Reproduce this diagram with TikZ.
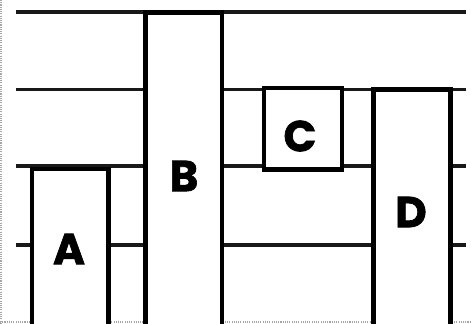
\documentclass[tikz,border=0pt]{standalone}
\usepackage{fontspec}
\setsansfont{Poppins}[BoldFeatures={FakeBold=1.5}]
\usetikzlibrary{positioning}
\definecolor{ScanBlack}{RGB}{25,25,25}
\definecolor{EdgeGray}{RGB}{165,165,165}
\tikzset{
  shelf/.style={line width=2.9pt,draw=ScanBlack},
  bar/.style={line width=3.6pt,draw=black,fill=white},
  letter/.style={font=\sffamily\bfseries\fontsize{37}{37}\selectfont,inner sep=0pt},
  frame/.style={line width=0.9pt,draw=EdgeGray,densely dotted}
}
\begin{document}
\begin{tikzpicture}[x=0.03cm,y=-0.03cm]
  \useasboundingbox (0,0) rectangle (471,323);
  \clip (0,0) rectangle (471,323);
  % scan edge
  \draw[frame] (1,0) -- (1,323);
  \draw[frame] (0,322) -- (471,322);
  % shelves
  \foreach \y in {12,89.5,166,245}
    \draw[shelf] (16,\y) -- (466,\y);
  % bars
  \draw[bar] (32,324) |- (108.5,169) -- (108.5,324);
  \draw[bar] (145.5,324) |- (222,12.5) -- (222,324);
  \draw[bar] (264,88) rectangle (342,169.5);
  \draw[bar] (373.5,324) |- (450.5,89.5) -- (450.5,324);
  % labels
  \node[letter] (labelA) at (69,249) {A};
  \node[letter] (labelB) at (184,176) {B};
  \node[letter] (labelC) at (300,136) {C};
  \node[letter] (labelD) at (411,212) {D};
\end{tikzpicture}
\end{document}
